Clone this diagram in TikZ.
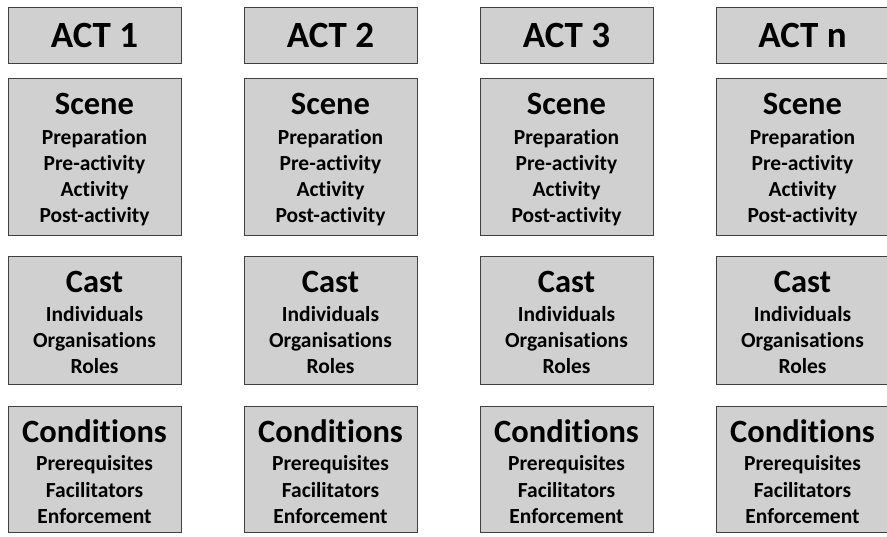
\documentclass[tikz,border=0pt]{standalone}
\usepackage{fontspec}
\setmainfont{Carlito}[Ligatures={NoCommon,NoDiscretionary}]
\definecolor{boxfill}{HTML}{D0D0D0}
\definecolor{boxline}{HTML}{404040}
\tikzset{
  panel/.style={draw=boxline, fill=boxfill, line width=1.3pt, inner sep=0pt, minimum width=173pt, anchor=north west},
  acttxt/.style={font=\bfseries\fontsize{37}{40}\selectfont, anchor=base, inner sep=0pt},
  headtxt/.style={font=\bfseries\fontsize{32.5}{36}\selectfont, anchor=base, inner sep=0pt},
  itemtxt/.style={font=\bfseries\fontsize{21.5}{24}\selectfont, anchor=base, inner sep=0pt},
}
\begin{document}
\begin{tikzpicture}[x=1pt,y=-1pt]
\useasboundingbox (0,0) rectangle (887,536);
\foreach \i/\lab in {0/1,1/2,2/3,3/n}{
  \pgfmathsetmacro{\xl}{8+236*\i}
  \pgfmathsetmacro{\xc}{\xl+86.5}
  % boxes
  \node[panel, minimum height=56pt]  (act\i)   at (\xl,7)   {};
  \node[panel, minimum height=157pt] (scene\i) at (\xl,78)  {};
  \node[panel, minimum height=128pt] (cast\i)  at (\xl,256) {};
  \node[panel, minimum height=126pt] (cond\i)  at (\xl,406) {};
  % act title
  \node[acttxt] (actT\i) at (\xc,47) {ACT \lab};
  % scene
  \node[headtxt] (sceneT\i) at (\xc,114.5) {Scene};
  \node[itemtxt] (sceneA\i) at (\xc,144) {Preparation};
  \node[itemtxt] (sceneB\i) at (\xc,170) {Pre-activity};
  \node[itemtxt] (sceneC\i) at (\xc,196) {Activity};
  \node[itemtxt] (sceneD\i) at (\xc,222) {Post-activity};
  % cast
  \node[headtxt] (castT\i) at (\xc,292) {Cast};
  \node[itemtxt] (castA\i) at (\xc,321) {Individuals};
  \node[itemtxt] (castB\i) at (\xc,347) {Organisations};
  \node[itemtxt] (castC\i) at (\xc,373) {Roles};
  % conditions
  \node[headtxt] (condT\i) at (\xc,442) {Conditions};
  \node[itemtxt] (condA\i) at (\xc,470) {Prerequisites};
  \node[itemtxt] (condB\i) at (\xc,497) {Facilitators};
  \node[itemtxt] (condC\i) at (\xc,523) {Enforcement};
}
\end{tikzpicture}
\end{document}
